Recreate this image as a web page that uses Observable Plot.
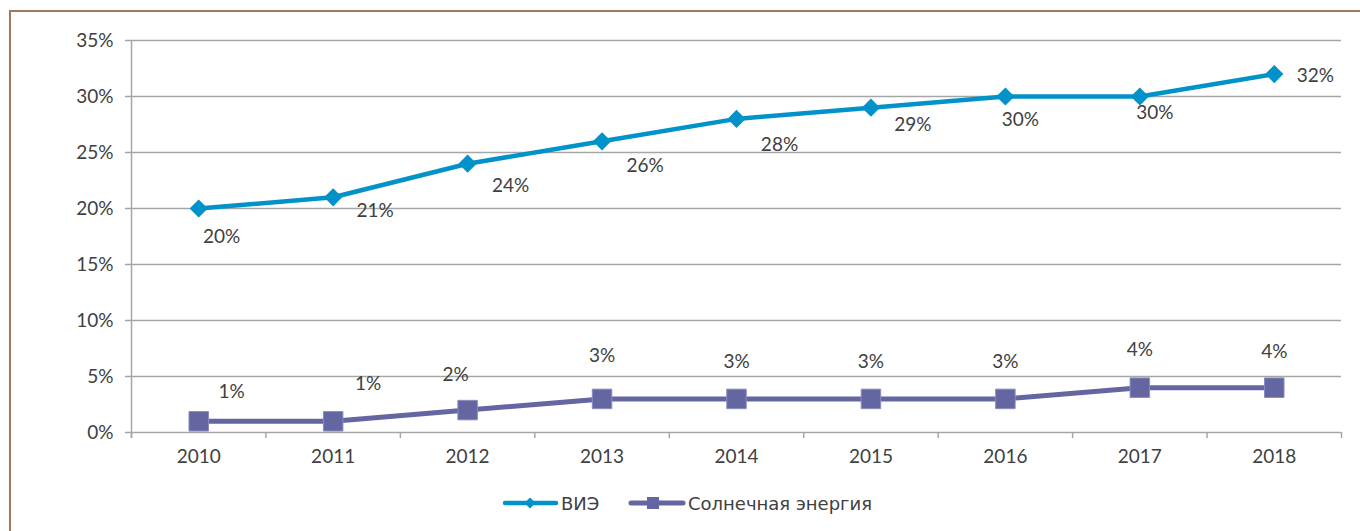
<!DOCTYPE html>
<html>
<head>
<meta charset="utf-8">
<script src="https://cdn.jsdelivr.net/npm/d3@7"></script>
<script src="https://cdn.jsdelivr.net/npm/@observablehq/plot@0.6"></script>
<style>
  html, body { margin: 0; padding: 0; background: #fff; }
  #wrap { position: relative; width: 1360px; height: 531px; overflow: hidden; }
  #frame { position: absolute; left: 9px; top: 10px; width: 1400px; height: 600px;
           border-top: 2px solid #a27a58; border-left: 2px solid #a27a58; box-sizing: border-box; }
  #chart { position: absolute; left: 0; top: 0; }
  #legend { position: absolute; left: 0; top: 488px; width: 1360px; height: 30px;
            font-family: "DejaVu Sans", sans-serif; font-size: 18px; color: #404040; }
  .item { position: absolute; top: 0; display: flex; align-items: center; height: 30px; }
  .item span { margin-left: 2px; }
</style>
</head>
<body>
<div id="wrap">
  <div id="frame"></div>
  <div id="chart"></div>
  <div id="legend">
    <div class="item" style="left:502px">
      <svg width="57" height="14"><line x1="3" y1="7" x2="54" y2="7" stroke="#0092c8" stroke-width="4.5" stroke-linecap="round"/><path d="M28,1.5 L33.5,7 L28,12.5 L22.5,7 Z" fill="#0092c8"/></svg>
      <span id="lg1"></span>
    </div>
    <div class="item" style="left:628px">
      <svg width="58" height="14"><line x1="3" y1="7" x2="55" y2="7" stroke="#6366a0" stroke-width="5" stroke-linecap="round"/><rect x="19" y="1" width="12" height="12" fill="#6366a0"/></svg>
      <span id="lg2"></span>
    </div>
  </div>
</div>
<script>
const years = [2010, 2011, 2012, 2013, 2014, 2015, 2016, 2017, 2018];
const vie = [20, 21, 24, 26, 28, 29, 30, 30, 32];
const solar = [1, 1, 2, 3, 3, 3, 3, 4, 4];
const seriesNames = ["ВИЭ", "Солнечная энергия"];
const yTicks = [0, 5, 10, 15, 20, 25, 30, 35];

// label placement offsets (px) for the value labels
const vieLabelOffsets = [[23,28],[42,14],[43,22],[43,25],[43,26],[42,17],[15,23],[15,16],[41,2]];
const solarLabelOffsets = [[33,-29],[35,-37],[-12,-35],[0,-43],[0,-37],[0,-37],[0,-37],[0,-38],[0,-36]];

document.getElementById("lg1").textContent = seriesNames[0];
document.getElementById("lg2").textContent = seriesNames[1];

const vieData = years.map((y, i) => ({year: y, value: vie[i]}));
const solarData = years.map((y, i) => ({year: y, value: solar[i]}));
const boundaries = years.map(y => y - 0.5).concat([years[years.length - 1] + 0.5]);

const blue = "#0092c8";
const purple = "#6366a0";
const grid = "#a6a6a6";
const textColor = "#404040";
const fs = 19;

const labelMarks = [];
vieData.forEach((d, i) => labelMarks.push(Plot.text([d], {
  x: "year", y: "value", text: d => d.value + "%",
  dx: vieLabelOffsets[i][0], dy: vieLabelOffsets[i][1],
  fill: textColor, fontSize: fs
})));
solarData.forEach((d, i) => labelMarks.push(Plot.text([d], {
  x: "year", y: "value", text: d => d.value + "%",
  dx: solarLabelOffsets[i][0], dy: solarLabelOffsets[i][1],
  fill: textColor, fontSize: fs
})));

const chart = Plot.plot({
  width: 1360,
  height: 470,
  marginLeft: 131,
  marginRight: 19,
  marginTop: 40,
  marginBottom: 38,
  style: { fontFamily: "Lato, sans-serif", fontSize: fs + "px", color: textColor, background: "transparent" },
  x: { domain: [years[0] - 0.5, years[years.length - 1] + 0.5] },
  y: { domain: [0, 35] },
  marks: [
    Plot.ruleY(yTicks, { x1: years[0] - 0.5 - 0.045, x2: years[years.length - 1] + 0.5, stroke: grid, strokeWidth: 1.5 }),
    Plot.ruleX([years[0] - 0.5], { y1: -0.54, y2: 35, stroke: grid, strokeWidth: 1.5 }),
    Plot.ruleX(boundaries, { y1: 0, y2: -0.54, stroke: grid, strokeWidth: 1.5 }),
    Plot.axisY(yTicks, { tickSize: 0, tickPadding: 18, tickFormat: d => d + "%", fill: textColor, fontSize: fs, label: null }),
    Plot.axisX(years, { tickSize: 0, tickPadding: 17, tickFormat: d => String(d), fill: textColor, fontSize: fs, label: null }),
    Plot.line(vieData, { x: "year", y: "value", stroke: blue, strokeWidth: 4.5 }),
    Plot.dot(vieData, { x: "year", y: "value", symbol: "diamond2", r: 8.2, fill: blue, stroke: "none" }),
    Plot.line(solarData, { x: "year", y: "value", stroke: purple, strokeWidth: 5 }),
    Plot.dot(solarData, { x: "year", y: "value", symbol: "square", r: 11, fill: purple, stroke: "#8a8dbd", strokeWidth: 1 }),
    ...labelMarks
  ]
});
document.getElementById("chart").appendChild(chart);
</script>
</body>
</html>
